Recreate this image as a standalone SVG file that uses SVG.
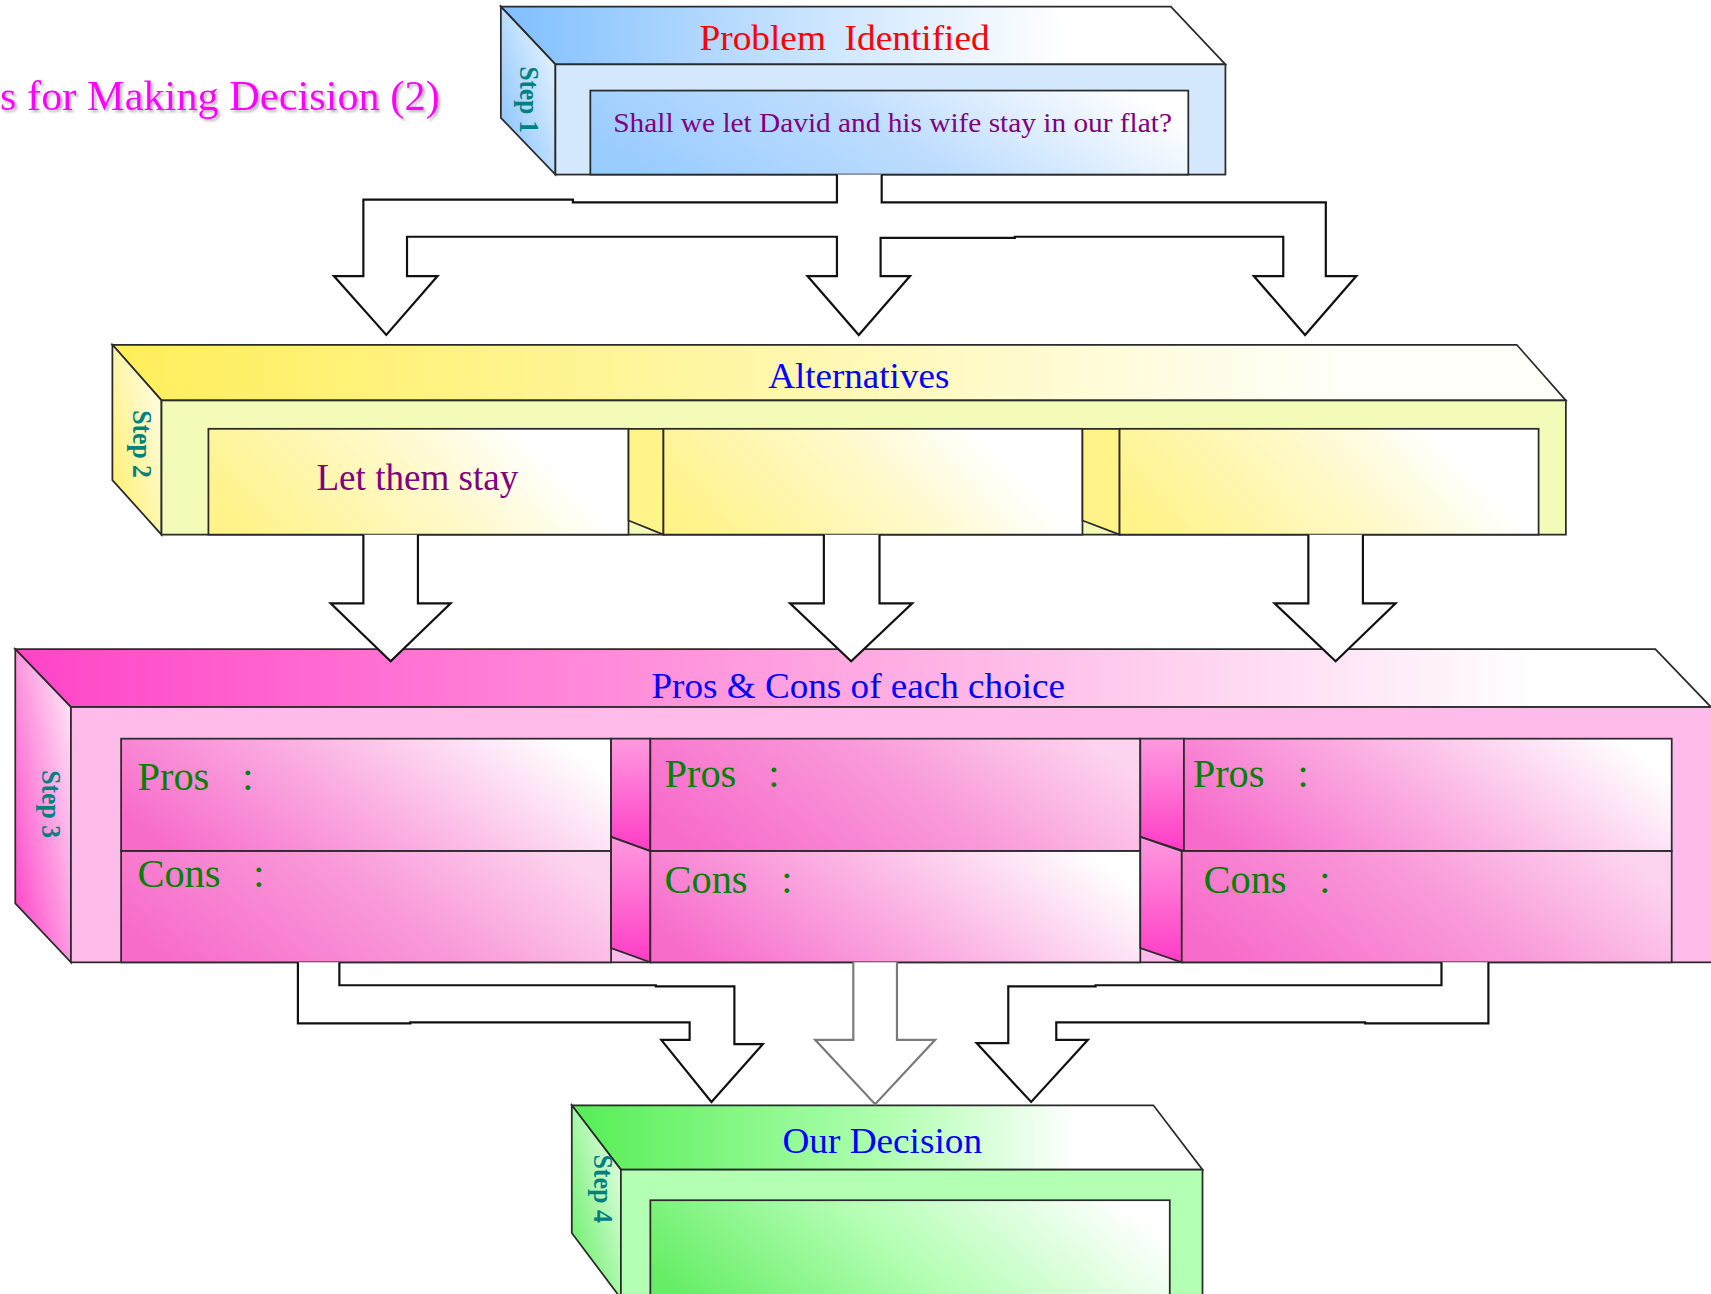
<svg xmlns="http://www.w3.org/2000/svg" width="1711" height="1294" viewBox="0 0 1711 1294">
<defs>
<style>
.edge{stroke:#2a2a2a;stroke-width:1.6;stroke-linejoin:miter}
.conn{fill:#ffffff;stroke:#111111;stroke-width:2;stroke-linejoin:miter}
.conn-grey{fill:#ffffff;stroke:#7a7a7a;stroke-width:2;stroke-linejoin:miter}
.serif{font-family:"Liberation Serif","Times New Roman",serif}
.head{font-size:33px;fill:#0000ff}
.step{font-family:"Liberation Serif","Times New Roman",serif;font-weight:bold;font-size:25px;fill:#008080}
.pc{font-family:"Liberation Serif","Times New Roman",serif;font-size:37px;fill:#008000}
</style>
<filter id="shadow" x="-5%" y="-20%" width="110%" height="140%">
<feDropShadow dx="2" dy="2" stdDeviation="1" flood-color="#888888" flood-opacity="0.6"/>
</filter>
<linearGradient id="blueTop" x1="0" y1="0" x2="1" y2="0"><stop offset="0" stop-color="#80BFFF"/><stop offset="0.5" stop-color="#D6EAFF"/><stop offset="0.78" stop-color="#FFFFFF"/></linearGradient>
<linearGradient id="blueLeft" x1="1" y1="0" x2="0" y2="1"><stop offset="0" stop-color="#F4FAFF"/><stop offset="1" stop-color="#7FBEFF"/></linearGradient>
<linearGradient id="blueInner" x1="0" y1="0.62" x2="1" y2="0.38"><stop offset="0" stop-color="#99CCFF"/><stop offset="0.5" stop-color="#BEDDFF"/><stop offset="1" stop-color="#FFFFFF"/></linearGradient>
<linearGradient id="yelTop" x1="0" y1="0" x2="1" y2="0"><stop offset="0" stop-color="#FFEE5A"/><stop offset="0.45" stop-color="#FFF7AA"/><stop offset="0.85" stop-color="#FFFFFA"/></linearGradient>
<linearGradient id="yelLeft" x1="1" y1="0" x2="0" y2="1"><stop offset="0" stop-color="#FFFFF4"/><stop offset="1" stop-color="#FFEE66"/></linearGradient>
<linearGradient id="yelInner" x1="0" y1="0.62" x2="1" y2="0.38"><stop offset="0" stop-color="#FFF38A"/><stop offset="0.5" stop-color="#FFF9C8"/><stop offset="0.85" stop-color="#FFFFFF"/></linearGradient>
<linearGradient id="pinkTop" x1="0" y1="0" x2="1" y2="0"><stop offset="0" stop-color="#FF44C8"/><stop offset="0.5" stop-color="#FFAAE2"/><stop offset="0.9" stop-color="#FFFFFF"/></linearGradient>
<linearGradient id="pinkLeft" x1="1" y1="0" x2="0" y2="1"><stop offset="0" stop-color="#FFF2FA"/><stop offset="1" stop-color="#FF3CC6"/></linearGradient>
<linearGradient id="pinkInner" x1="0" y1="0.65" x2="1" y2="0.35"><stop offset="0" stop-color="#F76CCB"/><stop offset="0.5" stop-color="#FBB2E3"/><stop offset="1" stop-color="#FFFFFF"/></linearGradient>
<linearGradient id="pinkInner2" x1="0" y1="0.65" x2="1" y2="0.35"><stop offset="0" stop-color="#F76CCB"/><stop offset="0.55" stop-color="#F99AD9"/><stop offset="1" stop-color="#FDD4EF"/></linearGradient>
<linearGradient id="pinkGap" x1="0" y1="0" x2="0" y2="1"><stop offset="0" stop-color="#FF9ADF"/><stop offset="1" stop-color="#FF3CC6"/></linearGradient>
<linearGradient id="greenTop" x1="0" y1="0" x2="1" y2="0"><stop offset="0" stop-color="#55EE55"/><stop offset="0.5" stop-color="#B0FFB0"/><stop offset="0.8" stop-color="#FFFFFF"/></linearGradient>
<linearGradient id="greenLeft" x1="1" y1="0" x2="0" y2="1"><stop offset="0" stop-color="#F4FFF4"/><stop offset="1" stop-color="#5EEE5E"/></linearGradient>
<linearGradient id="greenInner" x1="0" y1="0.62" x2="1" y2="0.38"><stop offset="0" stop-color="#66EE66"/><stop offset="0.5" stop-color="#B6FFB6"/><stop offset="1" stop-color="#FFFFFF"/></linearGradient>
</defs>
<rect x="0" y="0" width="1711" height="1294" fill="#ffffff"/>
<g transform="scale(1.0912,1.0911)">

<g id="title">
<text class="serif" x="0" y="101" font-size="39" fill="#FF00FF" filter="url(#shadow)" textLength="403" lengthAdjust="spacingAndGlyphs">s for Making Decision (2)</text>
</g>

<g id="step1">
<polygon class="edge" points="459,6 1073,6 1123,59 509,59" fill="url(#blueTop)"/>
<polygon class="edge" points="459,6 509,59 509,160 459,108" fill="url(#blueLeft)"/>
<rect class="edge" x="509" y="59" width="614" height="101" fill="#D4E9FD"/>
<rect class="edge" x="541" y="83" width="548" height="77" fill="url(#blueInner)"/>
<text class="serif" x="641" y="46" font-size="32.5" fill="#FF0000" textLength="266" lengthAdjust="spacingAndGlyphs" xml:space="preserve">Problem  Identified</text>
<text class="serif" x="562" y="121" font-size="25.5" fill="#800080" textLength="512" lengthAdjust="spacingAndGlyphs">Shall we let David and his wife stay in our flat?</text>
<text class="step" transform="translate(476.5,61) rotate(90)" textLength="61" lengthAdjust="spacingAndGlyphs">Step 1</text>
</g>

<g id="step2">
<polygon class="edge" points="103,316 1390,316 1435,367 148,367" fill="url(#yelTop)"/>
<polygon class="edge" points="103,316 148,367 148,490 103,440" fill="url(#yelLeft)"/>
<rect class="edge" x="148" y="367" width="1287" height="123" fill="#F4FBB9"/>
<rect class="edge" x="191" y="393" width="385" height="97" fill="url(#yelInner)"/>
<polygon class="edge" points="576,393 608,393 608,490 576,477" fill="#FFF38A"/>
<rect class="edge" x="608" y="393" width="384" height="97" fill="url(#yelInner)"/>
<polygon class="edge" points="992,393 1026,393 1026,490 992,477" fill="#FFF38A"/>
<rect class="edge" x="1026" y="393" width="384" height="97" fill="url(#yelInner)"/>
<text class="serif head" x="704" y="356" textLength="166" lengthAdjust="spacingAndGlyphs">Alternatives</text>
<text class="serif" x="290" y="449" font-size="35" fill="#800080" textLength="185" lengthAdjust="spacingAndGlyphs">Let them stay</text>
<text class="step" transform="translate(121.5,376) rotate(90)" textLength="62" lengthAdjust="spacingAndGlyphs">Step 2</text>
</g>

<g id="step3">
<polygon class="edge" points="14,595 1517,595 1568,648 65,648" fill="url(#pinkTop)"/>
<polygon class="edge" points="14,595 65,648 65,882 14,828" fill="url(#pinkLeft)"/>
<rect class="edge" x="65" y="648" width="1510" height="234" fill="#FFBBEA"/>
<rect class="edge" x="111" y="677" width="449" height="103" fill="url(#pinkInner)"/>
<rect class="edge" x="111" y="780" width="449" height="102" fill="url(#pinkInner2)"/>
<polygon class="edge" points="560,677 596,677 596,780 560,767" fill="url(#pinkGap)"/>
<polygon class="edge" points="560,767 596,780 596,882 560,869" fill="url(#pinkGap)"/>
<rect class="edge" x="596" y="677" width="449" height="103" fill="url(#pinkInner2)"/>
<rect class="edge" x="596" y="780" width="449" height="102" fill="url(#pinkInner)"/>
<polygon class="edge" points="1045,677 1085,677 1085,780 1045,767" fill="url(#pinkGap)"/>
<polygon class="edge" points="1045,767 1083,780 1083,882 1045,869" fill="url(#pinkGap)"/>
<rect class="edge" x="1085" y="677" width="447" height="103" fill="url(#pinkInner)"/>
<rect class="edge" x="1083" y="780" width="449" height="102" fill="url(#pinkInner2)"/>
<text class="serif head" x="597" y="640" font-size="34" textLength="379" lengthAdjust="spacingAndGlyphs">Pros &amp; Cons of each choice</text>
<text class="pc" y="724"><tspan x="126">Pros</tspan><tspan x="222">:</tspan></text>
<text class="pc" y="813"><tspan x="126">Cons</tspan><tspan x="232">:</tspan></text>
<text class="pc" y="721"><tspan x="609">Pros</tspan><tspan x="704">:</tspan></text>
<text class="pc" y="818"><tspan x="609">Cons</tspan><tspan x="716">:</tspan></text>
<text class="pc" y="721"><tspan x="1093">Pros</tspan><tspan x="1189">:</tspan></text>
<text class="pc" y="818"><tspan x="1103">Cons</tspan><tspan x="1209">:</tspan></text>
<text class="step" transform="translate(38.5,706) rotate(90)" textLength="62" lengthAdjust="spacingAndGlyphs">Step 3</text>
</g>

<g id="step4">
<polygon class="edge" points="524,1013 1057,1013 1102,1072 569,1072" fill="url(#greenTop)"/>
<polygon class="edge" points="524,1013 569,1072 569,1190 524,1130" fill="url(#greenLeft)"/>
<rect class="edge" x="569" y="1072" width="533" height="130" fill="#B3FFB3"/>
<rect class="edge" x="596" y="1100" width="476" height="100" fill="url(#greenInner)"/>
<text class="serif head" x="717" y="1057" textLength="183" lengthAdjust="spacingAndGlyphs">Our Decision</text>
<text class="step" transform="translate(544.5,1058) rotate(90)" textLength="63" lengthAdjust="spacingAndGlyphs">Step 4</text>
</g>

<g id="connectors">
<path class="conn" d="M767,160 L767,185.5 L525,185.5 L525,183 L333,183 L333,253 L306,253 L354,307 L401,253 L373,253 L373,217 L767,217 L767,253 L740,253 L787,307 L834,253 L807,253 L807,218 L930,218 L930,217 L1176,217 L1176,253 L1149,253 L1196,307 L1243,253 L1215,253 L1215,185.5 L808,185.5 L808,160"/>
<path class="conn" d="M333,490 L333,553 L303,553 L358,606 L413,553 L383,553 L383,490"/>
<path class="conn" d="M755,490 L755,553 L724,553 L780,606 L836,553 L806,553 L806,490"/>
<path class="conn" d="M1199,490 L1199,553 L1168,553 L1224,606 L1279,553 L1249,553 L1249,490"/>
<path class="conn" d="M273,882 L273,938 L376,938 L376,937 L632,937 L632,953 L606,953 L652,1010 L699,957 L673,957 L673,904 L601,904 L601,903 L311,903 L311,882"/>
<path class="conn-grey" d="M782,882 L782,953 L747,953 L802,1012 L857,953 L822,953 L822,882"/>
<path class="conn" d="M1364,882 L1364,938 L1251,938 L1251,937 L968,937 L968,953 L997,953 L945,1010 L895,956 L924,956 L924,904 L1004,904 L1004,903 L1321,903 L1321,882"/>
</g>
</g>
</svg>
